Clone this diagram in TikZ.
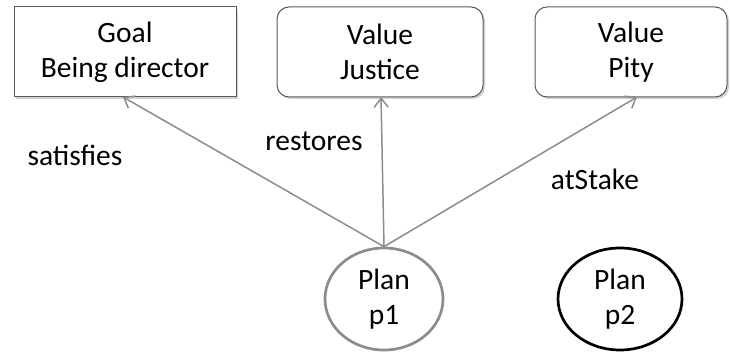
\documentclass[tikz,border=0pt]{standalone}
\usepackage{fontspec}
\setmainfont{Carlito}
\usetikzlibrary{arrows.meta,shadows,shapes.geometric}
\definecolor{edgegray}{HTML}{8C8C8C}
\definecolor{boxline}{HTML}{5A5A5A}
\begin{document}
\begin{tikzpicture}[x=1pt,y=-1pt,
  every node/.style={font=\fontsize{29.5}{35}\selectfont},
  boxnode/.style={draw=boxline, line width=1pt, fill=white, align=center,
    inner sep=0pt, drop shadow={shadow xshift=2pt, shadow yshift=-2pt, fill=black!30, opacity=0.6}},
  planell/.style={ellipse, draw, line width=2.7pt, align=center, inner sep=0pt},
  link/.style={draw=edgegray, line width=1.5pt, -{Straight Barb[length=9pt,width=14pt,line width=1.5pt]}},
  lbl/.style={inner sep=0pt}
]
\useasboundingbox (0,0) rectangle (730,352);
\node[boxnode, minimum width=222pt, minimum height=90pt] (goal) at (125,52) {Goal\\Being director};
\node[boxnode, rounded corners=12pt, minimum width=206pt, minimum height=90pt] (just) at (380,52) {Value\\Justice};
\node[boxnode, rounded corners=12pt, minimum width=192pt, minimum height=90pt] (pity) at (631,52) {Value\\Pity};
\node[planell, draw=edgegray, minimum width=118pt, minimum height=102pt] (p1) at (384,299) {Plan\\p1};
\node[planell, draw=black, minimum width=124pt, minimum height=102pt] (p2) at (620,299) {Plan\\p2};
\coordinate (gt) at (123,97);
\coordinate (jt) at (381,97);
\coordinate (pt) at (637,97);
\draw[link] (p1.north) -- (gt);
\draw[link] (p1.north) -- (jt);
\draw[link] (p1.north) -- (pt);
\node[lbl] (l1) at (75,155) {satisfies};
\node[lbl] (l2) at (314,141) {restores};
\node[lbl] (l3) at (595,179) {atStake};
\end{tikzpicture}
\end{document}
